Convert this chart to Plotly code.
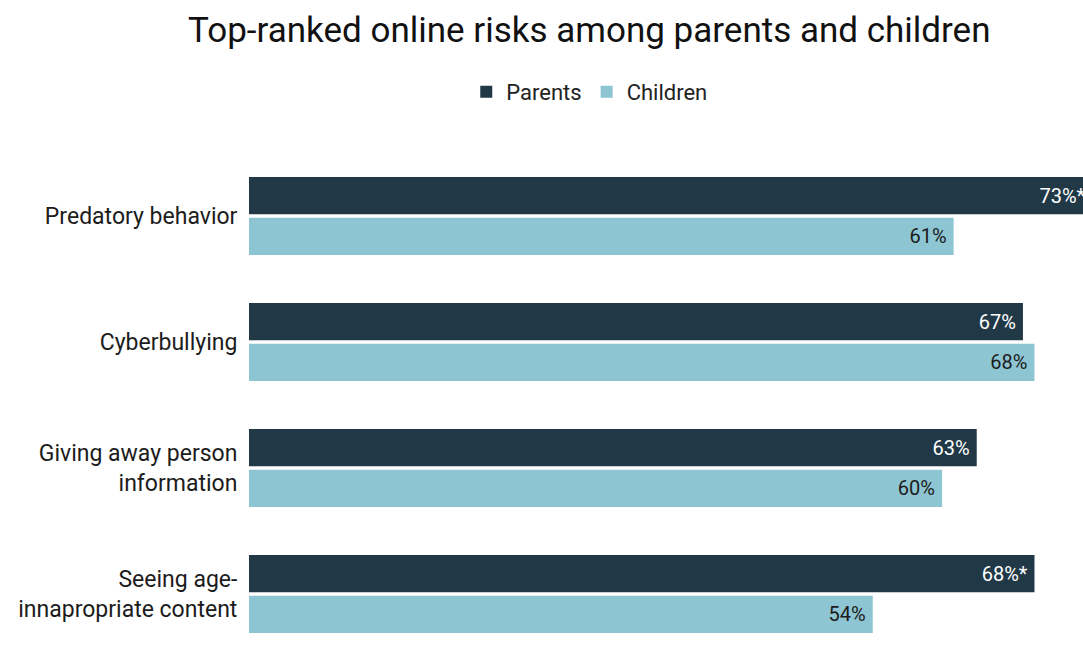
import plotly.graph_objects as go

categories = [
    "Predatory behavior",
    "Cyberbullying",
    "Giving away person<br>information",
    "Seeing age-<br>innapropriate content",
]
parents = [73, 67, 63, 68]
children = [61, 68, 60, 54]
parents_note = ["*", "", "", "*"]  # marked as significant differences
children_note = ["", "", "", ""]

PARENTS_COLOR = "#213847"
CHILDREN_COLOR = "#8ec5d2"
PAD = "\u2009"


def labels(values, notes):
    return [f"{v}%{n}{PAD}" for v, n in zip(values, notes)]


fig = go.Figure()
fig.add_trace(go.Bar(
    name="Parents", y=categories, x=parents, orientation="h",
    marker=dict(color=PARENTS_COLOR, line=dict(width=0)),
    text=labels(parents, parents_note), textposition="inside",
    insidetextanchor="end", constraintext="none",
    textfont=dict(family="Roboto", size=20, color="white"),
))
fig.add_trace(go.Bar(
    name="Children", y=categories, x=children, orientation="h",
    marker=dict(color=CHILDREN_COLOR, line=dict(width=0)),
    text=labels(children, children_note), textposition="inside",
    insidetextanchor="end", constraintext="none",
    textfont=dict(family="Roboto", size=20, color="#1c1c1c"),
))

fig.update_layout(
    width=1083, height=668,
    margin=dict(l=249, r=0, t=153, b=11),
    paper_bgcolor="white", plot_bgcolor="white",
    barmode="group", bargap=0.35, bargroupgap=0.09,
    font=dict(family="Roboto", size=20, color="#1c1c1c"),
    title=dict(
        text="Top-ranked online risks among parents and children",
        font=dict(family="Roboto", size=35, color="#111111"),
        x=0.408, xref="paper", xanchor="center",
        y=0.955, yref="container", yanchor="middle",
    ),
    legend=dict(
        orientation="h", x=0.408, xanchor="center", y=1.121, yanchor="middle",
        font=dict(family="Roboto", size=22, color="#222222"),
        itemsizing="constant", traceorder="normal",
    ),
    uniformtext=dict(minsize=20, mode="show"),
    showlegend=True,
)
fig.update_xaxes(range=[0, 72.2], visible=False, showgrid=False, zeroline=False)
fig.update_yaxes(
    autorange="reversed", showgrid=False, zeroline=False, showline=False,
    ticks="outside", ticklen=6, tickcolor="rgba(0,0,0,0)",
    tickfont=dict(family="Roboto", size=23, color="#1c1c1c"),
)

fig.write_html("out.html")
